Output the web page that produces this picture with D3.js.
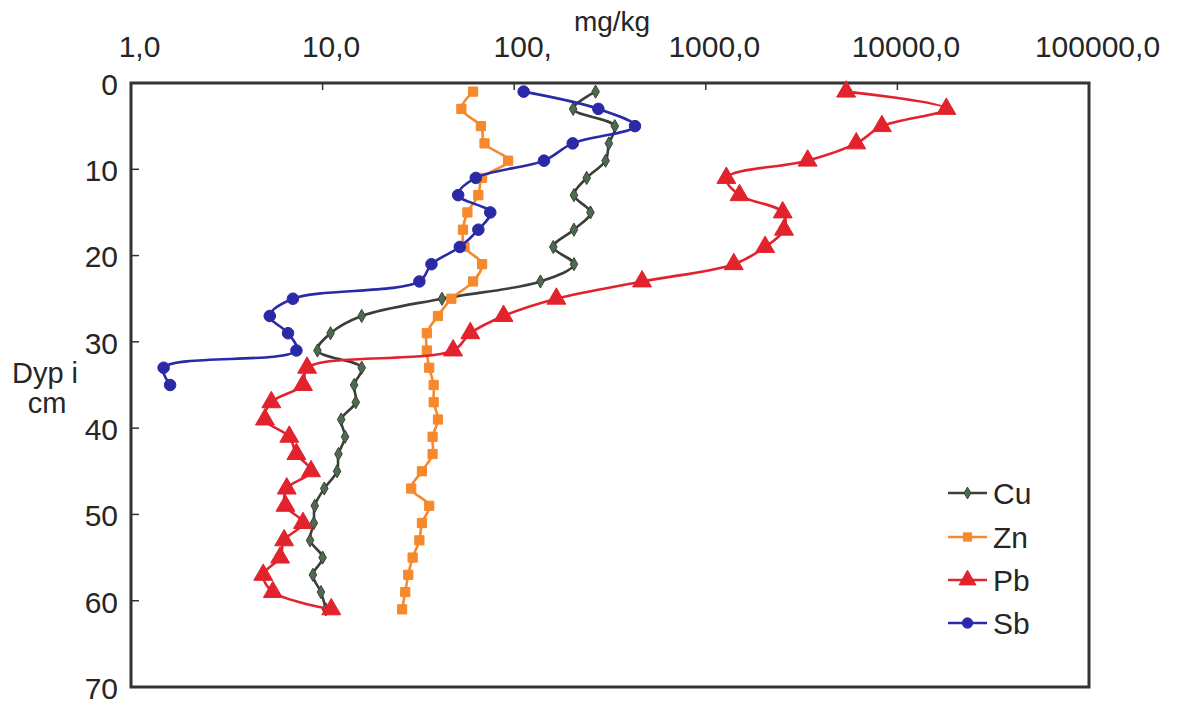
<!DOCTYPE html>
<html>
<head>
<meta charset="utf-8">
<script src="https://cdn.jsdelivr.net/npm/d3@7"></script>
<style>
  html, body { margin: 0; padding: 0; background: #fff; }
  svg { display: block; font-family: "Liberation Sans", Arial, sans-serif; }
</style>
</head>
<body>
<svg id="chart" width="1184" height="705"></svg>
<script>
// Sampling depth (cm) for each 2 cm slice
const depths = [1,3,5,7,9,11,13,15,17,19,21,23,25,27,29,31,33,35,37,39,41,43,45,47,49,51,53,55,57,59,61];

// Concentrations in mg/kg, one value per depth
const cu = [266,203,335,312,300,239,205,250,205,160,205,137,42,16,11,9.4,16,14.6,14.9,12.5,13.1,12.1,11.9,10.2,9.1,9.0,8.6,10.0,8.9,9.8,10.4];
const zn = [61,53,67,70,93,68,65,57,54,55,68,61,47,40,35,35,36,38,38,40,37.5,37.5,33,29,36,33,32,29.5,28,27,26];
const pb = [5400,18000,8300,6100,3400,1280,1500,2520,2560,2040,1400,465,166,88,59,48,8.3,7.9,5.4,5.0,6.7,7.3,8.7,6.5,6.4,7.9,6.3,6.0,4.9,5.5,11.1];
const sb = [112,275,427,202,143,63,51,75,65,52,37,32,7.0,5.3,6.6,7.3,1.48,1.6];

const seriesNames = ["Cu", "Zn", "Pb", "Sb"];
const xTicks = [1, 10, 100, 1000, 10000, 100000];
const xTickLabels = ["1,0", "10,0", "100,", "1000,0", "10000,0", "100000,0"];
const yTicks = [0, 10, 20, 30, 40, 50, 60, 70];

const series = [
  { name: "Cu", values: cu, color: "#3a3f3a", fill: "#4d6b4d", symbol: d3.symbolDiamond, size: 50, width: 2.6 },
  { name: "Zn", values: zn, color: "#f5892c", fill: "#f5892c", symbol: d3.symbolSquare, size: 85, width: 2.6 },
  { name: "Pb", values: pb, color: "#e2222c", fill: "#e2222c", symbol: d3.symbolTriangle, size: 155, width: 2.6 },
  { name: "Sb", values: sb, color: "#2b2aa6", fill: "#2b2aa6", symbol: d3.symbolCircle, size: 105, width: 2.6 }
];

const svg = d3.select("#chart");
const plotLeft = 131, plotRight = 1089, plotTop = 83, plotBottom = 687;

const x = d3.scaleLog().domain([1, 100000]).range([plotLeft, plotRight]);
const y = d3.scaleLinear().domain([0, 70]).range([plotTop, plotBottom]);

const textColor = "#262626";
const frameColor = "#333";

// Plot frame
svg.append("rect")
  .attr("x", plotLeft).attr("y", plotTop)
  .attr("width", plotRight - plotLeft).attr("height", plotBottom - plotTop)
  .attr("fill", "none").attr("stroke", frameColor).attr("stroke-width", 3);

// Top (value) axis
const xAxis = d3.axisTop(x)
  .tickValues(xTicks)
  .tickSize(0)
  .tickFormat((d, i) => xTickLabels[i]);
const gx = svg.append("g").attr("transform", `translate(0,${plotTop})`).call(xAxis);
gx.select(".domain").remove();
gx.selectAll("text")
  .attr("font-size", 30).attr("fill", textColor)
  .attr("font-family", "Liberation Sans, Arial, sans-serif")
  .attr("dx", 8).attr("y", -26);

// Inner tick marks along the top edge
svg.append("g").selectAll("line")
  .data(xTicks.slice(1, -1))
  .join("line")
  .attr("x1", d => x(d)).attr("x2", d => x(d))
  .attr("y1", plotTop).attr("y2", plotTop + 7)
  .attr("stroke", frameColor).attr("stroke-width", 1.5);

// Left (depth) axis
const yAxis = d3.axisLeft(y).tickValues(yTicks).tickSize(0).tickFormat(d3.format("d"));
const gy = svg.append("g").attr("transform", `translate(${plotLeft},0)`).call(yAxis);
gy.select(".domain").remove();
gy.selectAll("text")
  .attr("font-size", 30).attr("fill", textColor)
  .attr("font-family", "Liberation Sans, Arial, sans-serif")
  .attr("x", -13).attr("dy", "0.38em");

svg.append("g").selectAll("line")
  .data(yTicks.slice(1, -1))
  .join("line")
  .attr("x1", plotLeft).attr("x2", plotLeft + 8)
  .attr("y1", d => y(d)).attr("y2", d => y(d))
  .attr("stroke", frameColor).attr("stroke-width", 1.5);

// Axis titles
svg.append("text")
  .attr("x", 612).attr("y", 31)
  .attr("text-anchor", "middle")
  .attr("font-size", 28).attr("fill", textColor)
  .text("mg/kg");

const yTitle = svg.append("text")
  .attr("text-anchor", "middle")
  .attr("font-size", 29).attr("fill", textColor);
yTitle.append("tspan").attr("x", 45).attr("y", 383).text("Dyp i");
yTitle.append("tspan").attr("x", 47).attr("y", 413).text("cm");

// Profiles
const line = d3.line()
  .x(d => x(d.v))
  .y(d => y(d.depth))
  .curve(d3.curveCatmullRom.alpha(0.5));

const plot = svg.append("g");
series.forEach(s => {
  const pts = s.values.map((v, i) => ({ v, depth: depths[i] }));
  plot.append("path")
    .datum(pts)
    .attr("d", line)
    .attr("fill", "none")
    .attr("stroke", s.color)
    .attr("stroke-width", s.width);
  plot.append("g").selectAll("path")
    .data(pts)
    .join("path")
    .attr("transform", d => `translate(${x(d.v)},${y(d.depth)})`)
    .attr("d", d3.symbol().type(s.symbol).size(s.size))
    .attr("fill", s.fill)
    .attr("stroke", s.color)
    .attr("stroke-width", 1);
});

// Legend
const legend = svg.append("g");
const legendY = [493, 537, 580, 623];
series.forEach((s, i) => {
  const g = legend.append("g").attr("transform", `translate(0,${legendY[i]})`);
  g.append("line").attr("x1", 948).attr("x2", 987).attr("y1", 0).attr("y2", 0)
    .attr("stroke", s.color).attr("stroke-width", 2.5);
  g.append("path").attr("transform", "translate(967.5,0)")
    .attr("d", d3.symbol().type(s.symbol).size(s.size * 0.8))
    .attr("fill", s.fill).attr("stroke", s.color).attr("stroke-width", 1);
  g.append("text").attr("x", 993).attr("y", 0).attr("dy", "0.36em")
    .attr("font-size", 30).attr("fill", textColor)
    .text(seriesNames[i]);
});
</script>
</body>
</html>
